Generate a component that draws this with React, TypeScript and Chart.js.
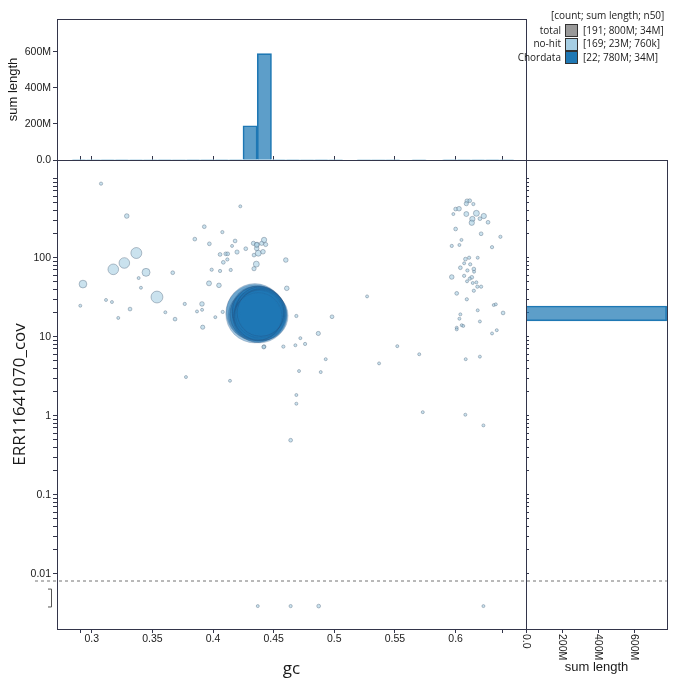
import React, { useEffect, useRef } from 'react';
import { Chart, registerables } from 'chart.js';
Chart.register(...registerables);

// ---------- axis ranges / ticks ----------
const GC_MIN = 0.2714;
const GC_MAX = 0.658;
const COV_MIN = 0.002;
const COV_MAX = 1725;
const HIST_MAX = 782e6;
const ZERO_COV_DISPLAY = 0.0039; // where zero-coverage contigs are shown
const ZERO_LINE = 0.0081;
const ZERO_BRACKET = [0.0064, 0.0038];

const gcTickValues = [0.2909, 0.3, 0.35, 0.4, 0.45, 0.5, 0.55, 0.6, 0.639];
const gcTickLabels = ['', '0.3', '0.35', '0.4', '0.45', '0.5', '0.55', '0.6', ''];
const covMajorTicks = [0.01, 0.1, 1, 10, 100, 1000];
const covMajorLabels = ['0.01', '0.1', '1', '10', '100', ''];
const histTickValues = [0, 200e6, 400e6, 600e6];
const histTickLabels = ['0.0', '200M', '400M', '600M'];

// ---------- no-hit contigs ----------
const noHitGc = [
  0.3077, 0.3289, 0.4225, 0.3928, 0.385, 0.4077, 0.397, 0.4182, 0.4157, 0.427,
  0.4198, 0.4058, 0.4105, 0.4121, 0.4118, 0.4085, 0.3989, 0.4058, 0.4146, 0.3967,
  0.4049, 0.408, 0.4019, 0.3915, 0.3909, 0.3868, 0.391, 0.3767, 0.3687, 0.3607,
  0.3538, 0.3668, 0.3448, 0.3368, 0.3269, 0.3178, 0.3387, 0.3406, 0.2928, 0.2906,
  0.3118, 0.3167, 0.3316, 0.3219, 0.46, 0.4608, 0.4421, 0.458, 0.4333, 0.4363,
  0.4401, 0.4421, 0.4434, 0.436, 0.4338, 0.4373, 0.4412, 0.4357, 0.4338, 0.436,
  0.4687, 0.4981, 0.4868, 0.472, 0.4759, 0.4679, 0.4418, 0.527, 0.5519, 0.57,
  0.4929, 0.5369, 0.3777, 0.414, 0.4709, 0.4888, 0.4687, 0.4687, 0.464, 0.5729,
  0.608, 0.6229, 0.4369, 0.464, 0.4871, 0.6229,
  0.6094, 0.6116, 0.6088, 0.6146, 0.6, 0.6028, 0.6171, 0.6232, 0.5981, 0.6088,
  0.6138, 0.62, 0.6133, 0.6267, 0.6, 0.621, 0.6369, 0.6048, 0.5968, 0.6031,
  0.63, 0.6182, 0.6081, 0.6111, 0.607, 0.612, 0.6039, 0.6097, 0.615, 0.6152,
  0.5968, 0.607, 0.6133, 0.6116, 0.6094, 0.6141, 0.6171, 0.6179, 0.621, 0.615,
  0.6009, 0.6092, 0.6314, 0.6331, 0.6182, 0.6391, 0.6039, 0.6031, 0.62, 0.605,
  0.6063, 0.6009, 0.6009, 0.6339, 0.63, 0.6083, 0.62,
];
const noHitCov = [
  866, 337, 447, 247, 172, 211, 150, 163, 141, 130,
  118, 110, 112, 112, 95, 87.5, 70.5, 68, 70, 47.4,
  44.7, 20.6, 17.7, 13.2, 26, 20.9, 21.9, 26, 16.7, 20.4,
  31.8, 64.6, 65.3, 114.7, 85.8, 71.3, 55.3, 41.7, 46.4, 24.7,
  29.2, 27.5, 22.4, 17.3, 93.5, 41, 7.5, 7.5, 152, 147,
  152, 168, 147, 131, 108, 114, 119, 83, 72.6, 145,
  18.3, 17.9, 11, 9.6, 8.1, 7.8, 7.4, 32.4, 7.6, 6,
  5.2, 4.6, 3.09, 2.77, 3.68, 3.57, 1.83, 1.42, 0.49, 1.11,
  1.03, 0.755, 0, 0, 0, 0,
  522, 527, 483, 478, 413, 417, 365, 337, 357, 357,
  309, 312, 277, 281, 231, 201, 184, 168, 141, 145,
  136, 100, 96, 100, 85, 82.5, 74.7, 69, 71.9, 66.5,
  57, 59, 56.5, 54.3, 50.3, 47.9, 48.8, 43, 43, 38.2,
  35.4, 29.8, 25.2, 25.7, 21.6, 20, 19.2, 16.9, 15.6, 14,
  13.7, 13, 12.4, 12.1, 11, 5.2, 5.6,
];
const noHitLenKb = [
  150, 300, 120, 200, 200, 150, 200, 200, 120, 200,
  250, 200, 200, 200, 150, 200, 150, 150, 150, 350,
  300, 150, 120, 250, 300, 120, 120, 150, 200, 120,
  2000, 200, 900, 1700, 1600, 1600, 100, 120, 850, 120,
  120, 120, 200, 100, 300, 300, 200, 150, 250, 300,
  250, 400, 250, 300, 200, 500, 300, 500, 250, 350,
  150, 200, 250, 120, 150, 120, 200, 60, 80, 80,
  100, 60, 60, 60, 60, 100, 60, 60, 200, 60,
  60, 80, 60, 150, 200, 80,
  250, 200, 250, 150, 200, 300, 500, 400, 120, 350,
  400, 200, 400, 200, 200, 200, 150, 120, 150, 120,
  150, 120, 200, 150, 120, 150, 200, 150, 200, 120,
  300, 150, 200, 150, 120, 120, 120, 150, 150, 150,
  200, 150, 120, 120, 120, 200, 120, 120, 120, 100,
  100, 100, 100, 100, 120, 80, 100,
];

// ---------- Chordata contigs ----------
const chordataGc = [
  0.4345, 0.4345, 0.4325, 0.435, 0.433, 0.4372, 0.4385, 0.4378, 0.4395, 0.4368, 0.439,
  0.4402, 0.437, 0.4381, 0.442, 0.4375, 0.4388, 0.4366, 0.4398, 0.4383, 0.4373, 0.4392,
];
const chordataCov = [
  19.5, 20.5, 18.8, 21.8, 19.0, 19.2, 18.5, 20.2, 19.0, 21.0, 18.0,
  19.6, 18.7, 20.8, 18.4, 19.8, 21.4, 17.8, 20.4, 19.3, 18.1, 20.0,
];
const chordataLenMb = [
  48, 46, 33, 32, 31, 44, 42, 40, 38, 36, 34,
  34, 33, 33, 33, 32, 32, 32, 32, 32, 32, 31,
];

// ---------- GC histogram (sum length per bin) ----------
const gcBinCenters = [
  0.28958, 0.30133, 0.31308, 0.32483, 0.33658, 0.34833, 0.36008, 0.37183, 0.38358, 0.39533,
  0.40708, 0.41883, 0.43058, 0.44233, 0.45408, 0.46583, 0.47758, 0.48933, 0.50108, 0.52458,
  0.53633, 0.54808, 0.56983, 0.59508, 0.60683, 0.61858, 0.63033, 0.64208,
];
const gcHistNoHit = [
  1.0, 0.2, 1.8, 2.0, 2.3, 0.3, 2.1, 0.3, 0.5, 1.0,
  1.3, 1.2, 1.4, 2.4, 0.6, 0.7, 0.4, 0.5, 0.2, 0.1,
  0.1, 0.1, 0.1, 0.6, 2.0, 1.8, 0.8, 0.2,
];
const gcHistChordata = [
  0, 0, 0, 0, 0, 0, 0, 0, 0, 0,
  0, 0, 190, 590, 0, 0, 0, 0, 0, 0,
  0, 0, 0, 0, 0, 0, 0, 0,
];

// ---------- coverage histogram (sum length per bin) ----------
const covBinCenters = [
  0.403, 0.621, 0.956, 1.474, 2.27, 3.5, 5.39, 8.31, 12.81, 19.72,
  30.42, 46.88, 72.24, 111.3, 171.5, 264.3, 407.3, 627.6, 967,
];
const covHistNoHit = [
  0.2, 0.1, 0.3, 0.2, 0.2, 0.5, 1.0, 1.3, 1.2, 1.8,
  3.0, 2.0, 4.0, 3.0, 2.5, 2.0, 1.6, 0.8, 0.2,
];
const covHistChordata = [
  0, 0, 0, 0, 0, 0, 0, 0, 0, 780,
  0, 0, 0, 0, 0, 0, 0, 0, 0,
];

// ---------- styling ----------
const AXIS = '#33354a';
const TEXT = '#1a1a1a';
const TICK_FONT = { family: "'Liberation Sans', Arial, sans-serif", size: 10.5 };
const TITLE_FAMILY = "'Open Sans', 'Noto Sans', sans-serif";
const RADIUS_K = 0.0042;
const NOHIT_FILL = 'rgba(166,206,227,0.6)';
const NOHIT_STROKE = 'rgba(90,110,130,0.55)';
const CHORD_FILL = 'rgba(31,120,180,0.42)';
const CHORD_STROKE = 'rgba(40,60,100,0.18)';

const radiusFor = (bp: number) => Math.max(1.5, RADIUS_K * Math.sqrt(bp));

function covMinorTicks(): number[] {
  const out: number[] = [];
  for (let d = 0.01; d < 1000; d *= 10) {
    for (let m = 1; m <= 9; m++) out.push(+(d * m).toPrecision(3));
  }
  out.push(1000);
  return out;
}

export default function App() {
  const mainRef = useRef<HTMLCanvasElement>(null);
  const topRef = useRef<HTMLCanvasElement>(null);
  const rightRef = useRef<HTMLCanvasElement>(null);

  useEffect(() => {
    const charts: Chart[] = [];
    const covTicks = covMinorTicks();
    const covLabel = (v: number) => {
      const i = covMajorTicks.findIndex((t) => Math.abs(t - v) / t < 1e-6);
      return i >= 0 ? covMajorLabels[i] : '';
    };
    const gcLabel = (v: number) => {
      const i = gcTickValues.findIndex((t) => Math.abs(t - v) < 1e-6);
      return i >= 0 ? gcTickLabels[i] : '';
    };
    const histLabel = (v: number) => {
      const i = histTickValues.findIndex((t) => Math.abs(t - v) < 1);
      return i >= 0 ? histTickLabels[i] : '';
    };

    const noHitPts = noHitGc.map((g, i) => ({
      x: g,
      y: noHitCov[i] > 0 ? noHitCov[i] : ZERO_COV_DISPLAY,
      len: noHitLenKb[i] * 1e3,
    }));
    const chordPts = chordataGc.map((g, i) => ({
      x: g,
      y: chordataCov[i],
      len: chordataLenMb[i] * 1e6,
    }));

    const zeroPlugin = {
      id: 'zeroLine',
      afterDraw(chart: any) {
        const ctx = chart.ctx;
        const y = chart.scales.y.getPixelForValue(ZERO_LINE);
        ctx.save();
        ctx.strokeStyle = '#8a8a8a';
        ctx.lineWidth = 1.2;
        ctx.setLineDash([3, 3]);
        ctx.beginPath();
        ctx.moveTo(35, y);
        ctx.lineTo(667, y);
        ctx.stroke();
        ctx.setLineDash([]);
        const y1 = chart.scales.y.getPixelForValue(ZERO_BRACKET[0]);
        const y2 = chart.scales.y.getPixelForValue(ZERO_BRACKET[1]);
        ctx.strokeStyle = '#555';
        ctx.lineWidth = 1;
        ctx.beginPath();
        ctx.moveTo(48, y1);
        ctx.lineTo(51.5, y1);
        ctx.lineTo(51.5, y2);
        ctx.lineTo(48, y2);
        ctx.stroke();
        ctx.restore();
      },
    };

    const framePlugin = {
      id: 'frame',
      afterDraw(chart: any) {
        const { left, right, top, bottom } = chart.chartArea;
        const ctx = chart.ctx;
        ctx.save();
        ctx.strokeStyle = AXIS;
        ctx.lineWidth = 1;
        ctx.strokeRect(Math.round(left) + 0.5, Math.round(top) + 0.5, Math.round(right - left), Math.round(bottom - top));
        ctx.restore();
      },
    };

    const rotLabels = {
      id: 'rotLabels',
      afterDraw(chart: any) {
        const ctx = chart.ctx;
        const xs = chart.scales.x;
        ctx.save();
        ctx.fillStyle = TEXT;
        ctx.font = `${TICK_FONT.size}px ${TICK_FONT.family}`;
        ctx.textAlign = 'left';
        ctx.textBaseline = 'middle';
        histTickValues.forEach((v, i) => {
          const x = xs.getPixelForValue(v);
          ctx.save();
          ctx.translate(x, chart.chartArea.bottom + 4);
          ctx.rotate(Math.PI / 2);
          ctx.fillText(histTickLabels[i], 1, 0);
          ctx.restore();
        });
        ctx.restore();
      },
    };

    // ---------- main scatter ----------
    if (mainRef.current) {
      charts.push(
        new Chart(mainRef.current, {
          type: 'scatter',
          data: {
            datasets: [
              {
                label: 'Chordata',
                data: chordPts,
                backgroundColor: CHORD_FILL,
                borderColor: CHORD_STROKE,
                borderWidth: 1,
                pointRadius: (c: any) => radiusFor(c.raw.len),
                pointHoverRadius: (c: any) => radiusFor(c.raw.len),
              } as any,
              {
                label: 'no-hit',
                data: noHitPts,
                backgroundColor: NOHIT_FILL,
                borderColor: NOHIT_STROKE,
                borderWidth: 0.8,
                pointRadius: (c: any) => radiusFor(c.raw.len),
                pointHoverRadius: (c: any) => radiusFor(c.raw.len),
              } as any,
            ],
          },
          options: {
            animation: false,
            responsive: false,
            maintainAspectRatio: false,
            events: [],
            layout: { padding: { left: 0, right: 154, top: 160, bottom: 0 } },
            plugins: { legend: { display: false }, tooltip: { enabled: false } },
            scales: {
              x: {
                type: 'linear',
                position: 'bottom',
                min: GC_MIN,
                max: GC_MAX,
                afterFit: (s: any) => { s.height = 58; },
                afterBuildTicks: (s: any) => { s.ticks = gcTickValues.map((v) => ({ value: v })); },
                ticks: { autoSkip: false, maxRotation: 0, minRotation: 0, padding: 0, color: TEXT, font: TICK_FONT, callback: (v: any) => gcLabel(Number(v)) },
                grid: { drawOnChartArea: false, tickLength: 4, color: AXIS },
                border: { color: AXIS },
                title: { display: true, text: 'gc', color: TEXT, font: { family: TITLE_FAMILY, size: 17 }, padding: { top: 0, bottom: 8 } },
              },
              x2: {
                type: 'linear',
                position: 'top',
                min: GC_MIN,
                max: GC_MAX,
                afterFit: (s: any) => { s.height = 0; },
                afterBuildTicks: (s: any) => { s.ticks = gcTickValues.map((v) => ({ value: v })); },
                ticks: { display: false, autoSkip: false },
                grid: { drawOnChartArea: false, tickLength: 4, color: AXIS },
                border: { color: AXIS },
              },
              y: {
                type: 'logarithmic',
                position: 'left',
                min: COV_MIN,
                max: COV_MAX,
                afterFit: (s: any) => { s.width = 57; },
                afterBuildTicks: (s: any) => { s.ticks = covTicks.map((v) => ({ value: v })); },
                ticks: { autoSkip: false, padding: 2, color: TEXT, font: TICK_FONT, callback: (v: any) => covLabel(Number(v)) },
                grid: { drawOnChartArea: false, tickLength: 4, color: AXIS },
                border: { color: AXIS },
                title: { display: true, text: 'ERR11641070_cov', color: TEXT, font: { family: TITLE_FAMILY, size: 17 }, padding: { top: 10, bottom: 0 } },
              },
              y2: {
                type: 'logarithmic',
                position: 'right',
                min: COV_MIN,
                max: COV_MAX,
                afterFit: (s: any) => { s.width = 0; },
                afterBuildTicks: (s: any) => { s.ticks = covTicks.map((v) => ({ value: v })); },
                ticks: { display: false, autoSkip: false },
                grid: { drawOnChartArea: false, tickLength: 3, color: AXIS },
                border: { color: AXIS },
              },
            },
          } as any,
          plugins: [zeroPlugin],
        })
      );
    }

    // ---------- top histogram ----------
    if (topRef.current) {
      charts.push(
        new Chart(topRef.current, {
          type: 'bar',
          data: {
            datasets: [
              {
                label: 'Chordata',
                data: gcBinCenters.map((c, i) => ({ x: c, y: gcHistChordata[i] * 1e6 })),
                backgroundColor: 'rgba(31,120,180,0.72)',
                borderColor: '#1f78b4',
                borderWidth: 1,
                barPercentage: 1,
                categoryPercentage: 1,
                grouped: false,
              } as any,
              {
                label: 'no-hit',
                data: gcBinCenters.map((c, i) => ({ x: c, y: gcHistNoHit[i] * 1e6 })),
                backgroundColor: 'rgba(166,206,227,0.8)',
                borderColor: '#a6cee3',
                borderWidth: 1,
                barPercentage: 1,
                categoryPercentage: 1,
                grouped: false,
              } as any,
            ],
          },
          options: {
            animation: false,
            responsive: false,
            maintainAspectRatio: false,
            events: [],
            layout: { padding: { left: 0, right: 154, top: 19, bottom: 527 } },
            plugins: { legend: { display: false }, tooltip: { enabled: false } },
            scales: {
              x: {
                type: 'linear',
                min: GC_MIN,
                max: GC_MAX,
                display: false,
                afterBuildTicks: (s: any) => { s.ticks = []; },
              },
              y: {
                type: 'linear',
                position: 'left',
                min: 0,
                max: HIST_MAX,
                afterFit: (s: any) => { s.width = 57; },
                afterBuildTicks: (s: any) => { s.ticks = histTickValues.map((v) => ({ value: v })); },
                ticks: { autoSkip: false, padding: 2, color: TEXT, font: TICK_FONT, callback: (v: any) => histLabel(Number(v)) },
                grid: { drawOnChartArea: false, tickLength: 4, color: AXIS },
                border: { color: AXIS },
                title: { display: true, text: 'sum length', color: TEXT, font: { family: "'Liberation Sans', Arial, sans-serif", size: 13 }, padding: { top: 6, bottom: 0 } },
              },
            },
          } as any,
          plugins: [framePlugin],
        })
      );
    }

    // ---------- right histogram ----------
    if (rightRef.current) {
      charts.push(
        new Chart(rightRef.current, {
          type: 'bar',
          data: {
            datasets: [
              {
                label: 'Chordata',
                data: covBinCenters.map((c, i) => ({ y: c, x: covHistChordata[i] * 1e6 })),
                backgroundColor: 'rgba(31,120,180,0.72)',
                borderColor: '#1f78b4',
                borderWidth: 1,
                barPercentage: 1,
                categoryPercentage: 1,
                grouped: false,
              } as any,
              {
                label: 'no-hit',
                data: covBinCenters.map((c, i) => ({ y: c, x: covHistNoHit[i] * 1e6 })),
                backgroundColor: 'rgba(166,206,227,0.8)',
                borderColor: '#a6cee3',
                borderWidth: 1,
                barPercentage: 1,
                categoryPercentage: 1,
                grouped: false,
              } as any,
            ],
          },
          options: {
            indexAxis: 'y',
            animation: false,
            responsive: false,
            maintainAspectRatio: false,
            events: [],
            layout: { padding: { left: 526, right: 13, top: 160, bottom: 0 } },
            plugins: { legend: { display: false }, tooltip: { enabled: false } },
            scales: {
              y: {
                type: 'logarithmic',
                min: COV_MIN,
                max: COV_MAX,
                display: false,
                afterBuildTicks: (s: any) => { s.ticks = []; },
              },
              x: {
                type: 'linear',
                position: 'bottom',
                min: 0,
                max: HIST_MAX,
                afterFit: (s: any) => { s.height = 58; },
                afterBuildTicks: (s: any) => { s.ticks = histTickValues.map((v) => ({ value: v })); },
                ticks: { display: false, autoSkip: false },
                grid: { drawOnChartArea: false, tickLength: 4, color: AXIS },
                border: { color: AXIS },
                title: { display: true, text: 'sum length', color: TEXT, font: { family: "'Liberation Sans', Arial, sans-serif", size: 13 }, padding: { top: 0, bottom: 12 } },
              },
            },
          } as any,
          plugins: [framePlugin, rotLabels],
        })
      );
    }

    return () => charts.forEach((c) => c.destroy());
  }, []);

  const canvasStyle: React.CSSProperties = { position: 'absolute', left: 0, top: 0, width: 680, height: 687 };
  const legendFont: React.CSSProperties = {
    position: 'absolute',
    fontFamily: "'Open Sans', 'Noto Sans', sans-serif",
    fontSize: 10,
    lineHeight: '13px',
    color: TEXT,
    whiteSpace: 'nowrap',
  };
  const rows = [
    { name: 'total', color: '#999999', text: '[191; 800M; 34M]', cy: 30 },
    { name: 'no-hit', color: '#a6cee3', text: '[169; 23M; 760k]', cy: 43.5 },
    { name: 'Chordata', color: '#1f78b4', text: '[22; 780M; 34M]', cy: 57 },
  ];

  return (
    <div style={{ position: 'fixed', left: 0, top: 0, width: 680, height: 687, background: '#fff', overflow: 'hidden' }}>
      <canvas ref={mainRef} width={680} height={687} style={canvasStyle} />
      <canvas ref={topRef} width={680} height={687} style={canvasStyle} />
      <canvas ref={rightRef} width={680} height={687} style={canvasStyle} />
      <div style={{ ...legendFont, left: 551, top: 15 - 6.5 }}>[count; sum length; n50]</div>
      {rows.map((r) => (
        <React.Fragment key={r.name}>
          <div style={{ ...legendFont, right: 680 - 561, top: r.cy - 6.5, textAlign: 'right' }}>{r.name}</div>
          <div
            style={{
              position: 'absolute',
              left: 565,
              top: r.cy - 6,
              width: 11,
              height: 11,
              background: r.color,
              border: '1px solid #333',
            }}
          />
          <div style={{ ...legendFont, left: 583, top: r.cy - 6.5 }}>{r.text}</div>
        </React.Fragment>
      ))}
    </div>
  );
}
